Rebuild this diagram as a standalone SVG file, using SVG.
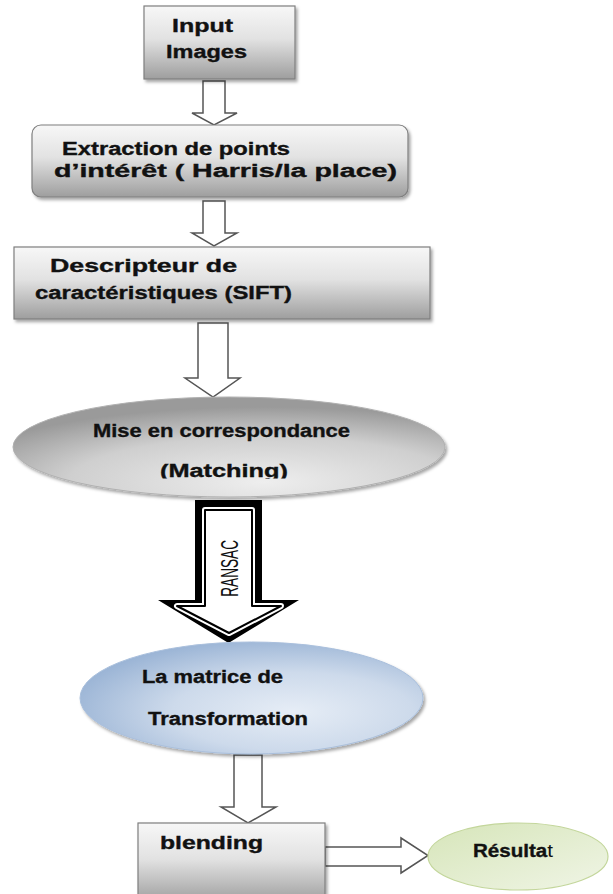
<svg xmlns="http://www.w3.org/2000/svg" width="613" height="894" viewBox="0 0 613 894">
<style>
.t{font-family:"Liberation Sans",Arial,sans-serif;font-weight:bold;font-size:17.5px;fill:#111;stroke:#111;stroke-width:0.35;}
.box{stroke:#7f7f7f;stroke-width:1.2;fill:url(#gGray);filter:url(#sh);}
.arr{fill:#fff;stroke:#555;stroke-width:1.5;stroke-linejoin:miter;}
</style>
<defs>
<linearGradient id="gGray" x1="0" y1="0" x2="0" y2="1">
<stop offset="0" stop-color="#f7f7f7"/><stop offset="0.45" stop-color="#e2e2e2"/><stop offset="1" stop-color="#9e9e9e"/>
</linearGradient>
<radialGradient id="gMise" cx="0.58" cy="0.85" r="0.75">
<stop offset="0" stop-color="#eeeeee"/><stop offset="0.6" stop-color="#cfcfcf"/><stop offset="1" stop-color="#9a9a9a"/>
</radialGradient>
<radialGradient id="gBlue" cx="0.62" cy="0.62" r="0.7">
<stop offset="0" stop-color="#e6edf6"/><stop offset="0.5" stop-color="#cddaeb"/><stop offset="1" stop-color="#95b0d3"/>
</radialGradient>
<linearGradient id="gGreen" x1="0" y1="0" x2="1" y2="1">
<stop offset="0" stop-color="#d6e5b9"/><stop offset="1" stop-color="#f0f5e6"/>
</linearGradient>
<filter id="sh" x="-10%" y="-10%" width="120%" height="130%">
<feDropShadow dx="2" dy="2.5" stdDeviation="1.5" flood-color="#000" flood-opacity="0.35"/>
</filter>
<clipPath id="clipM"><rect x="0" y="440" width="613" height="38.5"/></clipPath>
</defs>

<g id="connectors">
<path class="arr" d="M203,81 H225 V113 H237 L214,125 L192,113 H203 Z"/>
<path class="arr" d="M203,201 H225 V233 H237 L214,246 L192,233 H203 Z"/>
<path class="arr" d="M198,323 H228 V378 H240 L213,397 L185,378 H198 Z"/>
<g id="ransac">
<path d="M195,500 H262 V600 H299 L228.5,643 L158,600 H195 Z" fill="#000"/>
<path d="M205,510 H252 V606 H281 L229,633 L177,606 H205 Z" fill="#fff" stroke="#fff" stroke-width="6" stroke-linejoin="round"/>
<path d="M205,510 H252 V606 H281 L229,633 L177,606 H205 Z" fill="#fff" stroke="#000" stroke-width="2" stroke-linejoin="round"/>
<text transform="translate(238.3,596.7) rotate(-90)" x="0" y="0" textLength="56.7" lengthAdjust="spacingAndGlyphs" style="font-family:'Liberation Sans',Arial,sans-serif;font-size:23px;fill:#111;">RANSAC</text>
</g>
<path class="arr" d="M234,755 H262 V807 H276 L248,823 L221,807 H234 Z"/>
<path class="arr" d="M325,847 H401 V838 L428,855.5 L401,873 V866 H325 Z"/>
</g>

<g id="input">
<rect class="box" x="144" y="6" width="151" height="73"/>
<text class="t" x="172" y="31.5" textLength="61" lengthAdjust="spacingAndGlyphs">Input</text>
<text class="t" x="166" y="58" textLength="81" lengthAdjust="spacingAndGlyphs">Images</text>
</g>

<g id="extraction">
<rect class="box" x="32" y="125" width="376" height="72" rx="9"/>
<text class="t" x="62" y="155" textLength="228" lengthAdjust="spacingAndGlyphs">Extraction de points</text>
<text class="t" x="54" y="177" textLength="343" lengthAdjust="spacingAndGlyphs">d’intérêt ( Harris/la place)</text>
</g>

<g id="descripteur">
<rect class="box" x="14" y="247" width="416" height="72"/>
<text class="t" x="50" y="272" textLength="187" lengthAdjust="spacingAndGlyphs">Descripteur de</text>
<text class="t" x="35" y="298.5" textLength="257" lengthAdjust="spacingAndGlyphs">caractéristiques (SIFT)</text>
</g>

<g id="matching">
<ellipse cx="229" cy="447" rx="216" ry="50" fill="url(#gMise)" stroke="#b0b0b0" stroke-width="1" filter="url(#sh)"/>
<text class="t" x="93" y="437" textLength="257" lengthAdjust="spacingAndGlyphs">Mise en correspondance</text>
<text class="t" x="160" y="476.5" textLength="128" lengthAdjust="spacingAndGlyphs" clip-path="url(#clipM)">(Matching)</text>
</g>

<g id="matrice">
<ellipse cx="251.5" cy="698" rx="171.5" ry="56" fill="url(#gBlue)" stroke="#a9bfdc" stroke-width="1" filter="url(#sh)"/>
<text class="t" x="142" y="683" textLength="141" lengthAdjust="spacingAndGlyphs">La matrice de</text>
<text class="t" x="148" y="725" textLength="160" lengthAdjust="spacingAndGlyphs">Transformation</text>
</g>

<g id="blending">
<rect class="box" x="138" y="823" width="187" height="80"/>
<text class="t" x="160" y="849" textLength="103" lengthAdjust="spacingAndGlyphs">blending</text>
</g>

<g id="resultat">
<ellipse cx="518" cy="856.5" rx="90" ry="33.5" fill="url(#gGreen)" stroke="#c3d69b" stroke-width="1.2"/>
<text class="t" x="473" y="857" textLength="80" lengthAdjust="spacingAndGlyphs">Résulta<tspan font-weight="normal" stroke-width="0">t</tspan></text>
</g>
</svg>
